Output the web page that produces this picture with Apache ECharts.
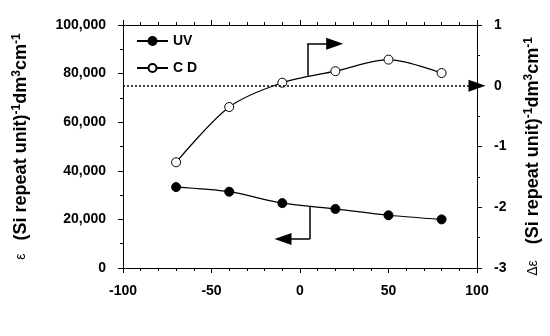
<!DOCTYPE html>
<html>
<head>
<meta charset="utf-8">
<script src="https://cdn.jsdelivr.net/npm/echarts@6/dist/echarts.min.js"></script>
<style>html,body{margin:0;padding:0;background:#fff;}#c{width:550px;height:336px;}</style>
</head>
<body>
<div id="c"></div>
<script>
const temps = [-70, -40, -10, 20, 50, 80];
const uvValues = [33300, 31400, 26700, 24300, 21700, 20000];
const cdValues = [-1.26, -0.35, 0.05, 0.24, 0.43, 0.21];
const xTicks = [-100, -50, 0, 50, 100];
const leftTicks = [0, 20000, 40000, 60000, 80000, 100000];
const rightTicks = [-3, -2, -1, 0, 1];

const FONT = '"Liberation Sans", Arial, Helvetica, sans-serif';
const chart = echarts.init(document.getElementById('c'));
const tickStyle = {show: true, inside: false, length: 5, lineStyle: {color: '#000', width: 1}};
const minorStyle = {show: true, length: 3, lineStyle: {color: '#000', width: 1}};
const labelStyle = {color: '#000', fontFamily: FONT, fontWeight: 'bold', fontSize: 14};
const nameRich = {
  e: {fontFamily: FONT, fontSize: 14, color: '#000', lineHeight: 20},
  g: {width: 13},
  m: {fontFamily: FONT, fontSize: 18, fontWeight: 'bold', color: '#000', lineHeight: 20},
  s: {fontFamily: FONT, fontSize: 12, fontWeight: 'bold', color: '#000', verticalAlign: 'top', lineHeight: 20}
};
const nameRichR = Object.assign({}, nameRich, {g: {width: 16}});

const uvData = temps.map((t, i) => [t, uvValues[i]]);
const cdData = temps.map((t, i) => [t, cdValues[i]]);

chart.setOption({
  animation: false,
  backgroundColor: '#fff',
  grid: {left: 123, right: 64, top: 25, bottom: 68},
  legend: {
    orient: 'vertical', left: 136, top: 34, padding: 0, itemWidth: 31, itemHeight: 10, itemGap: 13,
    textStyle: {color: '#000', fontFamily: FONT, fontWeight: 'bold', fontSize: 14},
    data: ['UV', 'C D']
  },
  xAxis: [{
    type: 'value', min: xTicks[0], max: xTicks[xTicks.length - 1], interval: 50,
    axisLine: {show: true, onZero: false, lineStyle: {color: '#000', width: 1}},
    axisTick: tickStyle, minorTick: Object.assign({splitNumber: 5}, minorStyle),
    axisLabel: Object.assign({margin: 16}, labelStyle),
    splitLine: {show: false}
  }, {
    type: 'value', position: 'top', min: xTicks[0], max: xTicks[xTicks.length - 1], interval: 50,
    axisLine: {show: true, onZero: false, lineStyle: {color: '#000', width: 1}},
    axisTick: tickStyle, minorTick: Object.assign({splitNumber: 5}, minorStyle),
    axisLabel: {show: false}, splitLine: {show: false}
  }],
  yAxis: [{
    type: 'value', min: leftTicks[0], max: leftTicks[leftTicks.length - 1], interval: 20000,
    axisLine: {show: true, onZero: false, lineStyle: {color: '#000', width: 1}},
    axisTick: tickStyle, minorTick: Object.assign({splitNumber: 2}, minorStyle),
    axisLabel: Object.assign({margin: 17, formatter: v => v.toLocaleString('en-US')}, labelStyle),
    splitLine: {show: false},
    name: '{e|ε}{g|}{m|(Si repeat unit)}{s|-1}{m|dm}{s|3}{m|cm}{s|-1}',
    nameLocation: 'middle', nameRotate: 90, nameGap: 92,
    nameTextStyle: {rich: nameRich}
  }, {
    type: 'value', position: 'right', min: rightTicks[0], max: rightTicks[rightTicks.length - 1], interval: 1,
    axisLine: {show: true, onZero: false, lineStyle: {color: '#000', width: 1}},
    axisTick: tickStyle, minorTick: Object.assign({splitNumber: 2}, minorStyle),
    axisLabel: Object.assign({margin: 17}, labelStyle),
    splitLine: {show: false},
    name: '{e|Δε}{g|}{m|(Si repeat unit)}{s|-1}{m|dm}{s|3}{m|cm}{s|-1}',
    nameLocation: 'middle', nameRotate: 90, nameGap: 46,
    nameTextStyle: {rich: nameRichR, padding: [0, 20, 0, 0]}
  }],
  series: [{
    name: 'UV', type: 'line', xAxisIndex: 0, yAxisIndex: 0, data: uvData,
    smooth: 0.3, symbol: 'circle', symbolSize: 9,
    lineStyle: {color: '#000', width: 1.2},
    itemStyle: {color: '#000', borderColor: '#000', borderWidth: 1},
    markLine: {
      silent: true, animation: false, label: {show: false},
      symbol: ['none', 'triangle'], symbolSize: [12, 17],
      lineStyle: {color: '#000', width: 1.5, type: 'solid'},
      data: [
        [{coord: [5.6, 25200], symbol: 'none'}, {coord: [5.6, 11900], symbol: 'none'}],
        [{coord: [5.6, 11900]}, {coord: [-9.6, 11900]}]
      ]
    }
  }, {
    name: 'C D', type: 'line', xAxisIndex: 0, yAxisIndex: 1, data: cdData,
    smooth: 0.3, symbol: 'circle', symbolSize: 9,
    lineStyle: {color: '#000', width: 1.2},
    itemStyle: {color: '#fff', borderColor: '#000', borderWidth: 1},
    markLine: {
      silent: true, animation: false, label: {show: false},
      symbol: ['none', 'triangle'], symbolSize: [12, 17],
      lineStyle: {color: '#000', width: 1.5, type: 'solid'},
      data: [
        {yAxis: 0, symbol: 'none', lineStyle: {type: [2, 2], width: 1.5}},
        [{coord: [4.1, 0.165], symbol: 'none'}, {coord: [4.1, 0.69], symbol: 'none'}],
        [{coord: [4.1, 0.69]}, {coord: [19.6, 0.69]}]
      ]
    }
  }]
});
</script>
</body>
</html>
